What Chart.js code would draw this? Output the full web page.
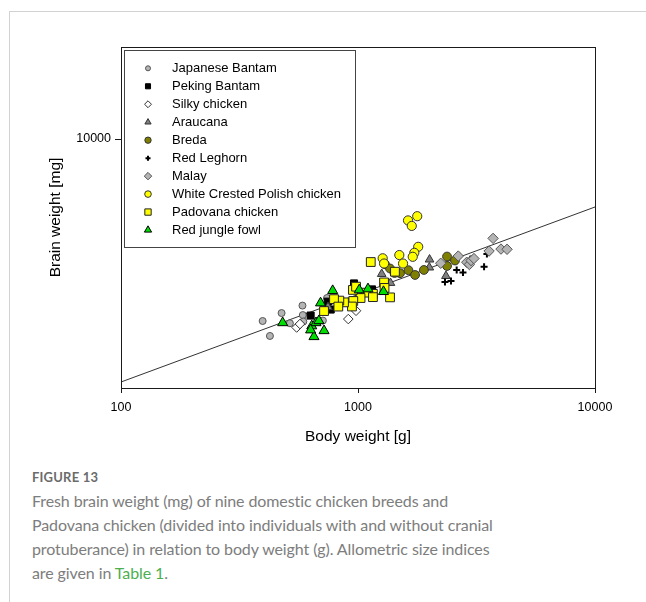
<!DOCTYPE html>
<html>
<head>
<meta charset="utf-8">
<script src="https://cdn.jsdelivr.net/npm/chart.js@4.4.0/dist/chart.umd.min.js"></script>
<style>
  html, body { margin: 0; padding: 0; background: #fff; }
  body { width: 646px; height: 602px; position: relative; overflow: hidden; }
  .frame { position: absolute; left: 9px; top: 11px; right: -2px; bottom: -2px; border-left: 1px solid #d2d2d2; border-top: 1px solid #d2d2d2; }
  #wrap { position: absolute; left: 0; top: 0; width: 646px; height: 460px; }
  .caption { position: absolute; left: 32px; top: 468px; font-family: "Lato", "Open Sans", sans-serif; color: #7d7d7d; white-space: nowrap; }
  .fig { font-size: 13px; font-weight: bold; color: #6b6b6b; line-height: 18px; letter-spacing: 0.2px; }
  .text { font-size: 16px; line-height: 24px; margin-top: 3px; letter-spacing: -0.1px; }
  .lnk { color: #4caf50; }
</style>
</head>
<body>
<div class="frame"></div>
<div id="wrap"><canvas id="chart" width="646" height="460"></canvas></div>
<div class="caption">
  <div class="fig">FIGURE 13</div>
  <div class="text">Fresh brain weight (mg) of nine domestic chicken breeds and<br>Padovana chicken (divided into individuals with and without cranial<br>protuberance) in relation to body weight (g). Allometric size indices<br>are given in <span class="lnk">Table 1</span>.</div>
</div>
<script>
// body weight [g], brain weight [mg]
const japaneseBantam = [[396, 1858], [476, 2000], [583, 2143], [585, 1963], [425, 1618], [516, 1820], [588, 1849], [711, 1866], [740, 2298]];
const pekingBantam = [[631, 1954], [767, 2066], [745, 2222], [962, 2630], [1146, 2489]];
const silkyChicken = [[551, 1750], [569, 1807], [910, 1892], [981, 2043]];
const araucana = [[1259, 2871], [1371, 2642], [2004, 3281], [2000, 3048], [2350, 2818], [747, 2113]];
const breda = [[1300, 3140], [1365, 3020], [1426, 2897], [1504, 2891], [1633, 2972], [1741, 2844], [1897, 2979], [2375, 3373], [2566, 3251], [2375, 3090]];
const redLeghorn = [[2328, 2667], [2468, 2692], [2608, 2979], [2773, 2911], [2970, 3289], [3404, 3069], [3499, 3451]];
const malay = [[2234, 3170], [2649, 3388], [2876, 3199], [2951, 3133], [2999, 3251], [3085, 3311], [3573, 3548], [3715, 3990], [4011, 3614], [4255, 3606]];
const polishChicken = [[1626, 4710], [1778, 4898], [1686, 4477], [1795, 3690], [1728, 3491], [1702, 3365], [1494, 3420], [1271, 3319], [1549, 3162], [1288, 3162]];
const padovana = [[1132, 3206], [1432, 2931], [1288, 2655], [1294, 2523], [1365, 2312], [1156, 2388], [1081, 2415], [1025, 2298], [952, 2477], [981, 2553],
  [955, 2236], [943, 2125], [873, 2208], [834, 2244], [792, 2275], [826, 2123], [719, 2037], [1156, 2317]];
const redJungleFowl = [[481, 1828], [782, 2460], [695, 2195], [638, 1775], [665, 1828], [684, 1862], [719, 1698], [652, 1607], [631, 1710], [1012, 2477], [1102, 2500], [1281, 2438]];

// allometric regression line (end points)
const fitX = [100, 10000];
const fitY = [1057, 5333];

const xTicks = [100, 1000, 10000];
const yTicks = [10000];

const seriesNames = ['Japanese Bantam', 'Peking Bantam', 'Silky chicken', 'Araucana', 'Breda', 'Red Leghorn', 'Malay', 'White Crested Polish chicken', 'Padovana chicken', 'Red jungle fowl'];
const seriesData = [japaneseBantam, pekingBantam, silkyChicken, araucana, breda, redLeghorn, malay, polishChicken, padovana, redJungleFowl];

// marker styles, same order as seriesNames
const markers = [
  { style: 'circle',   r: 3.5, fill: '#b4b4b4', line: '#555', lw: 1 },
  { style: 'rect',     r: 5,   fill: '#000',    line: '#000', lw: 1 },
  { style: 'rectRot',  r: 4.8, fill: '#fff',    line: '#333', lw: 1 },
  { style: 'triangle', r: 5,   fill: '#808080', line: '#333', lw: 1 },
  { style: 'circle',   r: 4.4, fill: '#808000', line: '#333', lw: 1 },
  { style: 'cross',    r: 3.5, fill: '#000',    line: '#000', lw: 2 },
  { style: 'rectRot',  r: 5.2, fill: '#b4b4b4', line: '#555', lw: 1 },
  { style: 'circle',   r: 4.6, fill: '#ffff00', line: '#333', lw: 1 },
  { style: 'rect',     r: 6.2, fill: '#ffff00', line: '#222', lw: 1 },
  { style: 'triangle', r: 5.8, fill: '#00dd00', line: '#000', lw: 1 }
];

const FONT = '"Liberation Sans", Arial, sans-serif';

const datasets = seriesNames.map((name, i) => ({
  label: name,
  data: seriesData[i].map(p => ({ x: p[0], y: p[1] })),
  pointStyle: markers[i].style,
  pointRadius: markers[i].r,
  pointBackgroundColor: markers[i].fill,
  pointBorderColor: markers[i].line,
  pointBorderWidth: markers[i].lw,
  showLine: false,
  order: seriesNames.length - i
}));

datasets.push({
  label: 'fit',
  data: fitX.map((x, i) => ({ x: x, y: fitY[i] })),
  showLine: true,
  borderColor: '#333',
  borderWidth: 1,
  pointRadius: 0,
  order: 99
});

// frame around plot + legend box inside it
const framePlugin = {
  id: 'frameLegend',
  afterDraw(chart) {
    const { ctx, chartArea: a } = chart;
    ctx.save();
    ctx.strokeStyle = '#1a1a1a';
    ctx.lineWidth = 1;
    ctx.strokeRect(Math.round(a.left) + 0.5, Math.round(a.top) + 0.5, Math.round(a.right - a.left), Math.round(a.bottom - a.top));

    const bx = a.left + 3, by = a.top + 3, bw = 231, bh = 197;
    ctx.fillStyle = '#fff';
    ctx.fillRect(bx, by, bw, bh);
    ctx.strokeStyle = '#444';
    ctx.strokeRect(Math.round(bx) + 0.5, Math.round(by) + 0.5, bw, bh);

    ctx.font = '13px ' + FONT;
    ctx.textBaseline = 'middle';
    seriesNames.forEach((name, i) => {
      const y = by + 18.3 + i * 17.97;
      const m = markers[i];
      ctx.fillStyle = m.fill;
      ctx.strokeStyle = m.line;
      ctx.lineWidth = m.lw;
      Chart.helpers.drawPoint(ctx, { pointStyle: m.style, radius: m.r * 0.72, rotation: 0, borderWidth: m.lw }, a.left + 27, y);
      ctx.fillStyle = '#000';
      ctx.fillText(name, a.left + 51, y + 0.5);
    });
    ctx.restore();
  }
};

new Chart(document.getElementById('chart'), {
  type: 'scatter',
  data: { datasets: datasets },
  options: {
    responsive: false,
    animation: false,
    layout: { padding: { left: 40, right: 51, top: 47, bottom: 10 } },
    plugins: { legend: { display: false }, tooltip: { enabled: false } },
    scales: {
      x: {
        type: 'logarithmic',
        min: 100,
        max: 10000,
        afterBuildTicks: s => { s.ticks = xTicks.map(v => ({ value: v })); },
        afterFit: s => { s.height = 62; },
        border: { display: false },
        grid: { drawOnChartArea: false, drawTicks: true, tickLength: 5, color: '#1a1a1a' },
        ticks: { color: '#000', padding: 7, maxRotation: 0, autoSkip: false, font: { family: FONT, size: 12.5 }, callback: v => String(v) },
        title: { display: true, text: 'Body weight [g]', color: '#000', font: { family: FONT, size: 15.5 }, padding: { top: 0, bottom: 4 } }
      },
      y: {
        type: 'logarithmic',
        min: 1000,
        max: 23420,
        afterBuildTicks: s => { s.ticks = yTicks.map(v => ({ value: v })); },
        afterFit: s => { s.width = 81; },
        border: { display: false },
        grid: { drawOnChartArea: false, drawTicks: true, tickLength: 6, color: '#1a1a1a' },
        ticks: { color: '#000', padding: 4, autoSkip: false, font: { family: FONT, size: 12.5 }, callback: v => String(v) },
        title: { display: true, text: 'Brain weight [mg]', color: '#000', font: { family: FONT, size: 15.5 }, padding: { top: 6, bottom: 0 } }
      }
    }
  },
  plugins: [framePlugin]
});
</script>
</body>
</html>
